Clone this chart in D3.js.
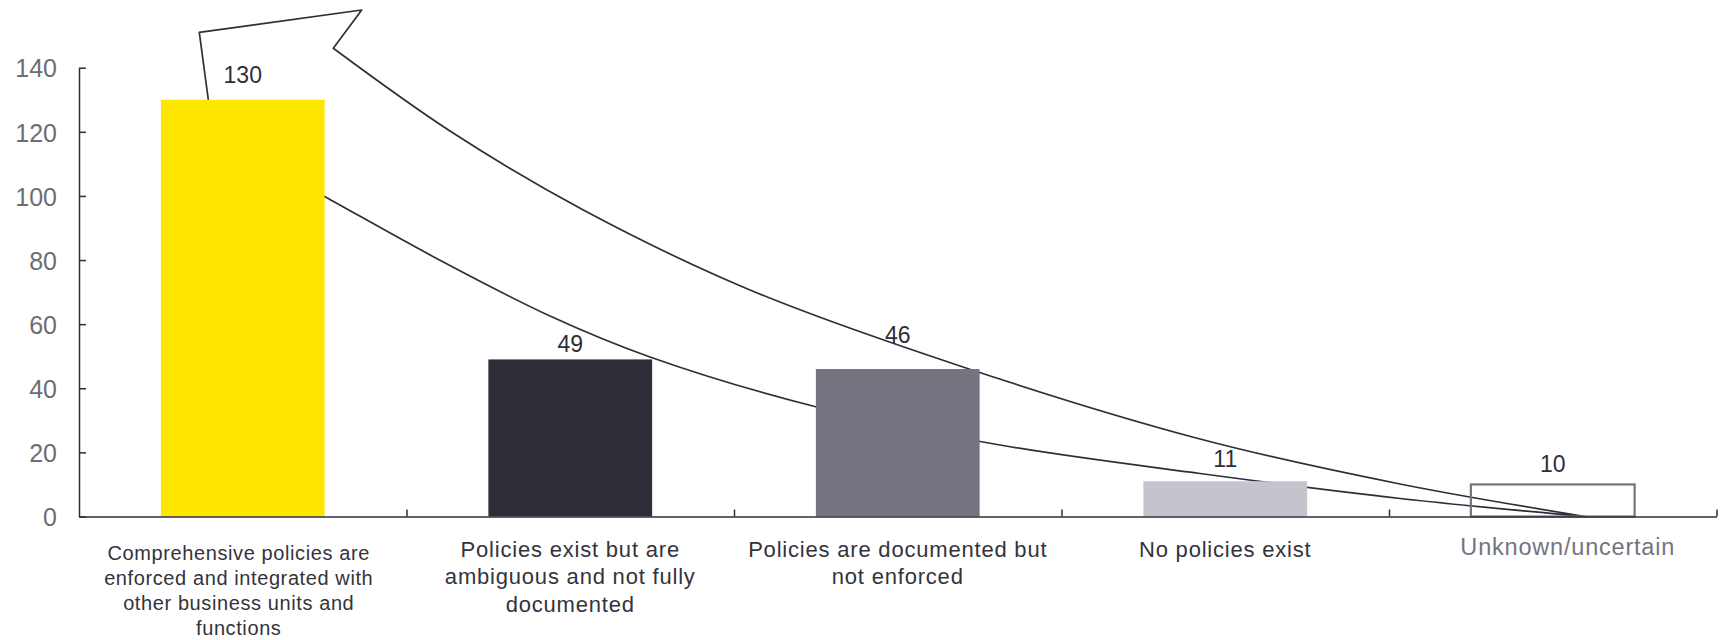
<!DOCTYPE html>
<html>
<head>
<meta charset="utf-8">
<script src="https://cdn.jsdelivr.net/npm/d3@7/dist/d3.min.js"></script>
<style>
  html, body { margin: 0; padding: 0; background: #ffffff; }
  svg { display: block; }
  text { font-family: "Liberation Sans", Arial, sans-serif; }
</style>
</head>
<body>
<script>
// ---------------- data ----------------
const categories = [
  "Comprehensive policies are enforced and integrated with other business units and functions",
  "Policies exist but are ambiguous and not fully documented",
  "Policies are documented but not enforced",
  "No policies exist",
  "Unknown/uncertain"
];
const categoryLines = [
  ["Comprehensive policies are", "enforced and integrated with", "other business units and", "functions"],
  ["Policies exist but are", "ambiguous and not fully", "documented"],
  ["Policies are documented but", "not enforced"],
  ["No policies exist"],
  ["Unknown/uncertain"]
];
const values = [130, 49, 46, 11, 10];
const yTicks = [0, 20, 40, 60, 80, 100, 120, 140];

// decorative arrow, in data units: [category position (0..5), value]
const arrowUpper = [
  [0.7765, 146.05], [1.1328, 120.25], [1.5399, 95.61], [2.0489, 70.66],
  [2.6901, 46.95], [3.4229, 24.18], [4.0336, 10.14], [4.5985, 0]
];
const arrowLower = [
  [4.5985, 0], [4.0336, 5.61], [3.4229, 13.41], [2.8122, 22.30], [2.2525, 34.16],
  [1.7435, 49.76], [1.4382, 62.54], [1.0922, 80.48], [0.7511, 99.76],
  [0.5588, 110.58], [0.3966, 128.68]
];
const arrowHead = [[0.3673, 151.04], [0.8632, 158.0]];

// ---------------- styles ----------------
const barFill = ["#FFE600", "#2E2E38", "#747480", "#C4C4CD", "none"];
const barStroke = ["none", "none", "none", "none", "#747480"];
const valueLabelGap = [16.4, 7.7, 25.8, 14.5, 12.7];
const catStyle = [
  { size: 20, pitch: 25, base: 560, dx: -4, color: "#33333D" },
  { size: 22, pitch: 27.5, base: 556.5, dx: 0, color: "#33333D" },
  { size: 22, pitch: 27.5, base: 556.5, dx: 0, color: "#33333D" },
  { size: 22, pitch: 27.5, base: 556.5, dx: 0, color: "#33333D" },
  { size: 23.5, pitch: 27.5, base: 555, dx: 15, color: "#747480" }
];

const W = 1723, H = 640;
const plotLeft = 79, plotRight = 1716.5, plotBottom = 516.5, plotTop = 67.7;
const ink = "#2E2E38";

const svg = d3.select("body").append("svg").attr("width", W).attr("height", H);

const x = d3.scaleBand().domain(categories).range([plotLeft, plotRight])
  .paddingInner(0.5).paddingOuter(0.25);
const xc = d3.scaleLinear().domain([0, categories.length]).range([plotLeft, plotRight]);
const y = d3.scaleLinear().domain([0, 140]).range([plotBottom, plotTop]);

// arrow (behind bars)
const line = d3.line().x(d => xc(d[0])).y(d => y(d[1])).curve(d3.curveCatmullRom.alpha(0.5));
const arrowD = line(arrowUpper) + line(arrowLower).replace(/^M/, "L") +
  arrowHead.map(p => "L" + xc(p[0]) + "," + y(p[1])).join("") + "Z";
svg.append("path").attr("d", arrowD).attr("fill", "none")
  .attr("stroke", ink).attr("stroke-width", 1.7).attr("stroke-linejoin", "round");

// bars
svg.append("g").selectAll("rect").data(values).join("rect")
  .attr("x", (d, i) => x(categories[i]))
  .attr("y", d => y(d))
  .attr("width", x.bandwidth())
  .attr("height", d => y(0) - y(d))
  .attr("fill", (d, i) => barFill[i])
  .attr("stroke", (d, i) => barStroke[i])
  .attr("stroke-width", 2.2);

// y axis
const gy = svg.append("g").attr("transform", `translate(${plotLeft},0)`)
  .call(d3.axisLeft(y).tickValues(yTicks).tickSize(-7).tickSizeOuter(0).tickPadding(22));
gy.attr("font-family", null).attr("font-size", null);
gy.select(".domain").attr("stroke", ink).attr("stroke-width", 1.5);
gy.selectAll(".tick line").attr("stroke", ink).attr("stroke-width", 1.5);
gy.selectAll(".tick text").attr("fill", "#6E6E72").attr("font-size", 25).attr("dy", "0.37em");

// x axis
const gx = svg.append("g").attr("transform", `translate(0,${plotBottom})`)
  .call(d3.axisBottom(xc).tickValues(d3.range(1, categories.length + 1))
    .tickSize(-7).tickSizeOuter(0).tickFormat(""));
gx.attr("font-family", null).attr("font-size", null);
gx.select(".domain").attr("stroke", ink).attr("stroke-width", 1.5);
gx.selectAll(".tick line").attr("stroke", ink).attr("stroke-width", 1.5);

// value labels
svg.append("g").selectAll("text").data(values).join("text")
  .attr("x", (d, i) => x(categories[i]) + x.bandwidth() / 2)
  .attr("y", (d, i) => y(d) - valueLabelGap[i])
  .attr("text-anchor", "middle")
  .attr("font-size", 23)
  .attr("fill", ink)
  .text(d => d);

// category labels
const cl = svg.append("g").selectAll("text").data(categories).join("text")
  .attr("x", (d, i) => x(d) + x.bandwidth() / 2 + catStyle[i].dx)
  .attr("y", (d, i) => catStyle[i].base)
  .attr("text-anchor", "middle")
  .attr("font-size", (d, i) => catStyle[i].size)
  .attr("letter-spacing", (d, i) => i === 0 ? 0.6 : 0.8)
  .attr("fill", (d, i) => catStyle[i].color);
cl.each(function (d, i) {
  const t = d3.select(this);
  const cx = x(d) + x.bandwidth() / 2 + catStyle[i].dx;
  categoryLines[i].forEach((ln, j) => {
    t.append("tspan").attr("x", cx).attr("dy", j === 0 ? 0 : catStyle[i].pitch).text(ln);
  });
});
</script>
</body>
</html>
